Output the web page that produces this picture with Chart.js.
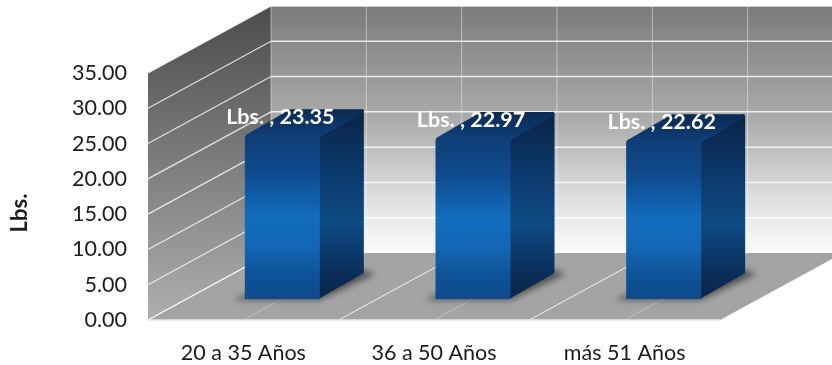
<!DOCTYPE html>
<html>
<head>
<meta charset="utf-8">
<title>Lbs. por edad</title>
<script src="https://cdn.jsdelivr.net/npm/chart.js@4"></script>
<style>
    html, body { margin: 0; padding: 0; background: #fff; }
    #wrap { width: 832px; height: 365px; overflow: hidden; }
    #chart { filter: blur(0.45px); }
</style>
</head>
<body>
<div id="wrap"><canvas id="chart" width="832" height="365"></canvas></div>
<script>
// DATA
const categories = ['20 a 35 Años', '36 a 50 Años', 'más 51 Años'];
const seriesName = 'Lbs.';
const values = [23.35, 22.97, 22.62];
const yMax = 35;
const yStep = 5;

// FAKE 3D SETTINGS
const depthX = 123, depthY = -67;     // from front edge of the box to the back wall
const barShiftX = 39, barShiftY = -21; // bars stand in the middle of the floor
const barDepthX = 44, barDepthY = -25;

function poly(ctx, pts) {
    ctx.beginPath();
    ctx.moveTo(pts[0][0], pts[0][1]);
    for (let i = 1; i < pts.length; i++) ctx.lineTo(pts[i][0], pts[i][1]);
    ctx.closePath();
}

function line(ctx, x1, y1, x2, y2, color, width) {
    ctx.strokeStyle = color;
    ctx.lineWidth = width;
    ctx.beginPath();
    ctx.moveTo(x1, y1);
    ctx.lineTo(x2, y2);
    ctx.stroke();
}

function vGradient(ctx, top, bottom, stops) {
    const g = ctx.createLinearGradient(0, top, 0, bottom);
    stops.forEach(s => g.addColorStop(s[0], s[1]));
    return g;
}

// BOX: walls, floor and grid lines, all taken from the chart scales
function drawBox(chart) {
    const ctx = chart.ctx, y = chart.scales.y;
    const a = chart.chartArea;
    ctx.save();

    ctx.fillStyle = vGradient(ctx, a.top + depthY, a.bottom + depthY, [[0, '#7b7b7b'], [0.45, '#aaaaaa'], [0.8, '#e2e2e2'], [1, '#fbfbfb']]);
    ctx.fillRect(a.left + depthX, a.top + depthY, a.width, a.height);

    ctx.fillStyle = vGradient(ctx, a.top + depthY, a.bottom, [[0, '#4c4c4c'], [0.5, '#7d7d7d'], [1, '#aeaeae']]);
    poly(ctx, [[a.left, a.top], [a.left + depthX, a.top + depthY], [a.left + depthX, a.bottom + depthY], [a.left, a.bottom]]);
    ctx.fill();

    ctx.fillStyle = '#a4a4a4';
    poly(ctx, [[a.left, a.bottom], [a.right, a.bottom], [a.right + depthX, a.bottom + depthY], [a.left + depthX, a.bottom + depthY]]);
    ctx.fill();

    // value grid lines on both walls
    y.ticks.forEach(t => {
        const py = y.getPixelForValue(t.value);
        const col = t.value === 0 ? '#e9e9e9' : 'rgba(255,255,255,0.8)';
        line(ctx, a.left, py, a.left + depthX, py + depthY, col, 1.2);
        if (t.value > 0) line(ctx, a.left + depthX, py + depthY, a.right + depthX, py + depthY, 'rgba(255,255,255,0.8)', 1.5);
    });

    // category lines: back wall and floor, every half category
    const halfStep = a.width / categories.length / 2;
    for (let i = 0; i <= categories.length * 2; i++) {
        const px = a.left + i * halfStep;
        line(ctx, px + depthX, a.top + depthY, px + depthX, a.bottom + depthY, 'rgba(255,255,255,0.45)', 1);
        if (i < categories.length * 2) {
            line(ctx, px, a.bottom, px + depthX, a.bottom + depthY, i % 2 ? 'rgba(255,255,255,0.3)' : 'rgba(255,255,255,0.85)', 1);
        }
    }
    line(ctx, a.left, a.bottom, a.right, a.bottom, '#e6e6e6', 1.5);

    // soft shadow under the bars
    chart.getDatasetMeta(0).data.forEach(bar => {
        const l = bar.x - bar.width / 2 + barShiftX, r = bar.x + bar.width / 2 + barShiftX;
        const b = a.bottom + barShiftY;
        ctx.save();
        ctx.filter = 'blur(3px)';
        ctx.fillStyle = 'rgba(30,30,30,0.62)';
        poly(ctx, [[l - 11, b + 1], [r, b + 1], [r + barDepthX + 11, b + barDepthY], [r + barDepthX, b + barDepthY - 4], [l, b - 4]]);
        ctx.fill();
        ctx.restore();
    });
    ctx.restore();
}

// side and top of each bar, read from the bar element
function drawBarFaces(chart) {
    const ctx = chart.ctx;
    const inset = 2;
    chart.getDatasetMeta(0).data.forEach(bar => {
        const l = bar.x - bar.width / 2, r = bar.x + bar.width / 2;
        const t = bar.y, b = bar.base;

        const side = vGradient(ctx, t + barDepthY, b, [[0, '#092346'], [0.3, '#0c3768'], [0.6, '#0e4b84'], [0.85, '#0a2f5c'], [1, '#0a2547']]);
        ctx.fillStyle = side;
        ctx.strokeStyle = side;
        ctx.lineWidth = inset * 2;
        ctx.lineJoin = 'round';
        poly(ctx, [[r - inset, t + inset], [r + barDepthX - inset, t + barDepthY + inset], [r + barDepthX - inset, b + barDepthY - inset], [r - inset, b - inset]]);
        ctx.fill();
        ctx.stroke();

        const top = vGradient(ctx, t + barDepthY, t, [[0, '#0a2a53'], [1, '#0f3d75']]);
        ctx.fillStyle = top;
        ctx.strokeStyle = top;
        poly(ctx, [[l + inset + 1, t + inset], [r - inset, t + inset], [r + barDepthX - inset, t + barDepthY + inset], [l + barDepthX + inset, t + barDepthY + inset]]);
        ctx.fill();
        ctx.stroke();
    });
}

function drawLabels(chart) {
    const ctx = chart.ctx;
    ctx.save();
    ctx.font = 'bold 21.5px Lato';
    ctx.textAlign = 'center';
    ctx.textBaseline = 'middle';
    ctx.fillStyle = '#ffffff';
    chart.getDatasetMeta(0).data.forEach((bar, i) => {
        ctx.fillText(seriesName + ' , ' + values[i].toFixed(2), bar.x + 37, bar.y - 38);
    });

    // axis title sits lower than the axis middle, so it goes here
    ctx.translate(20, 213);
    ctx.rotate(-Math.PI / 2);
    ctx.fillStyle = '#1c1c1c';
    ctx.font = 'bold 22px Lato';
    ctx.fillText(seriesName, 0, 0);
    ctx.restore();
}

const box3d = {
    id: 'box3d',
    beforeDatasetsDraw(chart) {
        drawBox(chart);
        chart.ctx.save();
        chart.ctx.translate(barShiftX, barShiftY);
        drawBarFaces(chart);
    },
    afterDatasetsDraw(chart) {
        chart.ctx.restore();
        drawLabels(chart);
    }
};

new Chart(document.getElementById('chart'), {
    type: 'bar',
    data: {
        labels: categories,
        datasets: [{
            label: seriesName,
            data: values,
            barThickness: 75,
            borderRadius: 4,
            clip: false,
            inflateAmount: 0,
            backgroundColor(c) {
                const yScale = c.chart.scales.y;
                if (!yScale || !c.parsed) return '#1368b8';
                const top = yScale.getPixelForValue(c.parsed.y), bottom = yScale.getPixelForValue(0);
                if (!isFinite(top) || !isFinite(bottom)) return '#1368b8';
                return vGradient(c.chart.ctx, top, bottom, [
                    [0, '#0f3e77'], [0.22, '#0f4a8c'], [0.5, '#136cbe'], [0.68, '#1367b5'], [0.85, '#0f5398'], [1, '#0d4b8c']
                ]);
            }
        }]
    },
    plugins: [box3d],
    options: {
        responsive: false,
        animation: false,
        layout: { padding: { top: 73, right: 112, bottom: 0, left: 0 } },
        plugins: { legend: { display: false }, title: { display: false }, tooltip: { enabled: false } },
        scales: {
            x: {
                grid: { display: false, drawTicks: false },
                border: { display: false },
                afterFit(s) { s.height = 45; },
                ticks: { color: '#1c1c1c', padding: 20, maxRotation: 0, font: { family: 'Lato', size: 21.5 } }
            },
            y: {
                min: 0,
                max: yMax,
                grid: { display: false, drawTicks: false },
                border: { display: false },
                afterFit(s) { s.width = 148; },
                ticks: {
                    stepSize: yStep,
                    color: '#1c1c1c',
                    padding: 21,
                    font: { family: 'Lato', size: 21.5 },
                    callback: v => v.toFixed(2)
                }
            }
        }
    }
});
</script>
</body>
</html>
